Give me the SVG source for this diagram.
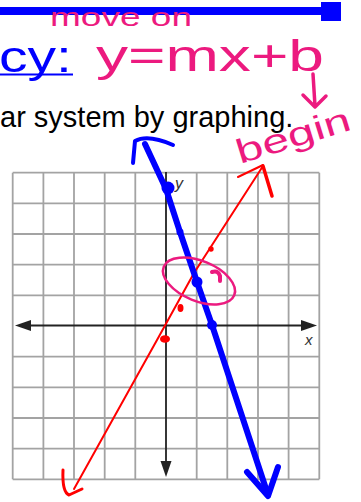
<svg xmlns="http://www.w3.org/2000/svg" width="361" height="502" viewBox="0 0 361 502">
<defs>
<style>
.grid{stroke:#a3a3a3;stroke-width:1.8;fill:none}
.axis{stroke:#222;stroke-width:1.8;fill:none}
.ah{fill:#222;stroke:none}
.pink{fill:#ec1a7f;font-family:"Liberation Sans",Arial,sans-serif}
.pinkline{stroke:#ec1a7f;fill:none;stroke-linecap:round;stroke-linejoin:round}
.blue{stroke:#0000ff;fill:none;stroke-linecap:round;stroke-linejoin:round}
.red{stroke:#ff0000;fill:none;stroke-linecap:round;stroke-linejoin:round}
.lbl{font-family:"Liberation Sans",Arial,sans-serif;font-style:italic;fill:#333}
</style>
</defs>
<rect width="361" height="502" fill="#ffffff"/>
<g id="header">
<rect x="0" y="7" width="324" height="8" fill="#0000ff"/>
<rect x="321" y="2" width="20" height="19" fill="#0000ff"/>
<text x="-1" y="72" font-family="Liberation Sans, Arial, sans-serif" font-size="44" fill="#0000ff" textLength="73" lengthAdjust="spacingAndGlyphs">cy:</text>
<rect x="0" y="73.5" width="73" height="2" fill="#0000ff"/>
<text x="0" y="127" font-family="Liberation Sans, Arial, sans-serif" font-size="29" fill="#000000">ar system by graphing.</text>
</g>
<g id="grid">
<path class="grid" d="M12.7,172.7V479.3M43.4,172.7V479.3M74,172.7V479.3M104.7,172.7V479.3M135.3,172.7V479.3M196.7,172.7V479.3M227.3,172.7V479.3M258,172.7V479.3M288.6,172.7V479.3M319.3,172.7V479.3"/>
<path class="grid" d="M12.7,172.7H319.3M12.7,203.4H319.3M12.7,234H319.3M12.7,264.7H319.3M12.7,295.3H319.3M12.7,356.7H319.3M12.7,387.3H319.3M12.7,418H319.3M12.7,448.6H319.3M12.7,479.3H319.3"/>
</g>
<g id="axes">
<path class="axis" d="M28,325.5H304M166,172V464"/>
<path class="ah" d="M15,325.5L31,320L31,331Z"/>
<path class="ah" d="M317,325.5L301,320L301,331Z"/>
<path class="ah" d="M166,477L160.5,461L171.5,461Z"/>
<text class="lbl" x="175" y="189" font-size="16">y</text>
<text class="lbl" x="305" y="345" font-size="15">x</text>
</g>
<g id="red-line">
<path class="red" stroke-width="2" d="M263,166L194,273L157,340L74,489"/>
<path class="red" stroke-width="2" d="M238,177L263,165"/>
<path class="red" stroke-width="3.5" d="M263,166L272,196"/>
<path class="red" stroke-width="3" d="M63,470Q62,492 69,495L82,489"/>
<circle cx="211" cy="249" r="2.7" fill="#ff0000"/>
<ellipse cx="180.5" cy="308" rx="3" ry="4" fill="#ff0000"/>
<ellipse cx="165" cy="339" rx="5" ry="3.8" fill="#ff0000"/>
</g>
<g id="blue-line">
<path class="blue" stroke-width="6" d="M145,144L166,189L180,232L197,282L212,325L268,495"/>
<path class="blue" stroke-width="4" d="M133,163L135,141Q148,134 173,145"/>
<path class="blue" stroke-width="6" d="M247,472L268,496L278,467"/>
<circle cx="168" cy="188" r="6.5" fill="#0000ff"/>
<circle cx="180" cy="232" r="3.5" fill="#0000ff"/>
<circle cx="197" cy="282" r="5.5" fill="#0000ff"/>
<circle cx="212" cy="325" r="5" fill="#0000ff"/>
</g>
<g id="annotations">
<ellipse class="pinkline" stroke-width="2.5" cx="199" cy="281" rx="38" ry="20" transform="rotate(22 199 281)"/>
<path class="pinkline" stroke-width="4" d="M212,272Q218,270 220,276L220,281"/>
<text class="pink" x="50" y="26" font-size="25" textLength="142" lengthAdjust="spacingAndGlyphs">move on</text>
<text class="pink" x="96" y="71" font-size="44" textLength="228" lengthAdjust="spacingAndGlyphs">y=mx+b</text>
<path class="pinkline" stroke-width="3.5" d="M313,74L315,106M303,95L315,107L326,96"/>
<text class="pink" x="0" y="0" font-size="34" textLength="118" lengthAdjust="spacingAndGlyphs" transform="translate(240,164) rotate(-17)">begin</text>
</g>
</svg>
